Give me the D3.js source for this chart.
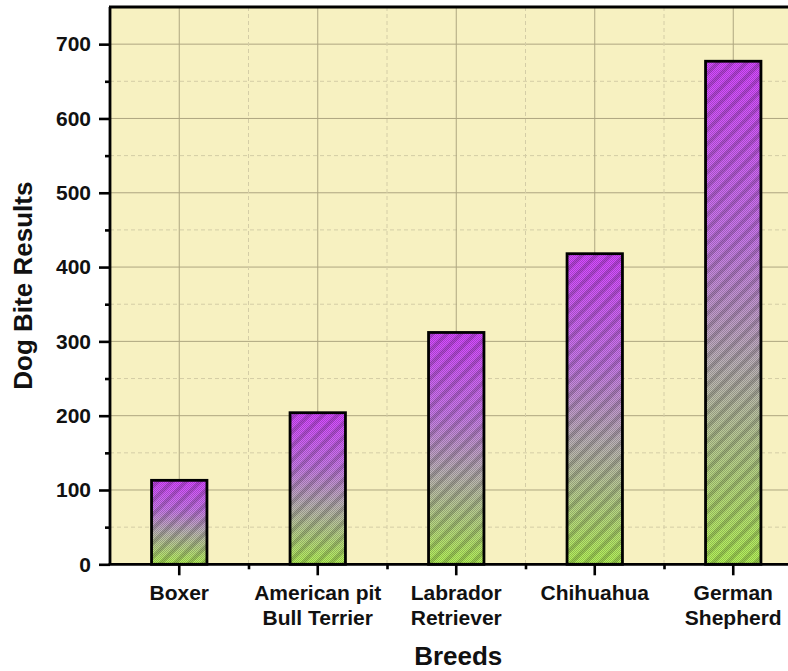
<!DOCTYPE html>
<html>
<head>
<meta charset="utf-8">
<script src="https://cdn.jsdelivr.net/npm/d3@7"></script>
<style>
  body { margin: 0; background: #fff; }
  text { font-family: "Liberation Sans", Arial, sans-serif; font-weight: bold; fill: #111; }
</style>
</head>
<body>
<div class="bar-chart"></div>
<script>
// Data
const breeds = ["Boxer", "American pit\nBull Terrier", "Labrador\nRetriever", "Chihuahua", "German\nShepherd"];
const bites = [113, 204, 312, 418, 677];
const majorTicks = [0, 100, 200, 300, 400, 500, 600, 700];
const minorTicks = [50, 150, 250, 350, 450, 550, 650, 750];

// Setup
const width = 788, height = 671;
const plotLeft = 110, plotTop = 7, plotBottom = 564.3, plotRight = 802.5;

const svg = d3.select(".bar-chart")
  .append("svg")
  .attr("width", width)
  .attr("height", height);

const x = d3.scaleBand()
  .domain(breeds)
  .range([plotLeft, plotRight])
  .paddingInner(0.6)
  .paddingOuter(0.3);

const y = d3.scaleLinear()
  .domain([0, 750])
  .range([plotBottom, plotTop]);

const step = x.step();
const center = d => x(d) + x.bandwidth() / 2;

// defs: gradient + texture
const defs = svg.append("defs");
const grad = defs.append("linearGradient")
  .attr("id", "barGrad")
  .attr("x1", 0).attr("y1", 0).attr("x2", 0).attr("y2", 1);
grad.append("stop").attr("offset", "0%").attr("stop-color", "#d448ff");
grad.append("stop").attr("offset", "35%").attr("stop-color", "#c878ea");
grad.append("stop").attr("offset", "60%").attr("stop-color", "#bcb2b8");
grad.append("stop").attr("offset", "100%").attr("stop-color", "#b4f25a");

const hatch = defs.append("pattern")
  .attr("id", "hatch")
  .attr("patternUnits", "userSpaceOnUse")
  .attr("width", 10).attr("height", 10)
  .attr("patternTransform", "rotate(-45)");
hatch.append("rect")
  .attr("width", 10).attr("height", 4)
  .attr("fill", "rgba(0,0,0,0.16)");

const dots = defs.append("pattern")
  .attr("id", "dots")
  .attr("patternUnits", "userSpaceOnUse")
  .attr("width", 2).attr("height", 2);
dots.append("rect").attr("width", 1).attr("height", 1).attr("fill", "rgba(0,0,0,0.2)");
dots.append("rect").attr("x", 1).attr("y", 1).attr("width", 1).attr("height", 1).attr("fill", "rgba(0,0,0,0.2)");

// plot background
svg.append("rect")
  .attr("x", plotLeft).attr("y", plotTop)
  .attr("width", plotRight - plotLeft).attr("height", plotBottom - plotTop)
  .attr("fill", "#f7f1c1");

// grid
const grid = svg.append("g").attr("class", "grid");
grid.selectAll(".gy-major")
  .data(majorTicks.slice(1))
  .enter().append("line")
  .attr("x1", plotLeft).attr("x2", plotRight)
  .attr("y1", d => y(d)).attr("y2", d => y(d))
  .attr("stroke", "#aea680").attr("stroke-width", 1);
grid.selectAll(".gy-minor")
  .data(minorTicks.slice(0, -1))
  .enter().append("line")
  .attr("x1", plotLeft).attr("x2", plotRight)
  .attr("y1", d => y(d)).attr("y2", d => y(d))
  .attr("stroke", "#d4cda6").attr("stroke-width", 1)
  .attr("stroke-dasharray", "4,3");
grid.selectAll(".gx-major")
  .data(breeds)
  .enter().append("line")
  .attr("x1", center).attr("x2", center)
  .attr("y1", plotTop).attr("y2", plotBottom)
  .attr("stroke", "#aea680").attr("stroke-width", 1);
grid.selectAll(".gx-minor")
  .data(breeds)
  .enter().append("line")
  .attr("x1", d => center(d) + step / 2).attr("x2", d => center(d) + step / 2)
  .attr("y1", plotTop).attr("y2", plotBottom)
  .attr("stroke", "#d4cda6").attr("stroke-width", 1)
  .attr("stroke-dasharray", "4,3");

// bars
const bars = svg.append("g").attr("class", "bars")
  .selectAll("g")
  .data(breeds.map((b, i) => ({ name: b, value: bites[i] })))
  .enter().append("g");

["url(#barGrad)", "url(#dots)", "url(#hatch)"].forEach(fill => {
  bars.append("rect")
    .attr("x", d => x(d.name))
    .attr("y", d => y(d.value))
    .attr("width", x.bandwidth())
    .attr("height", d => y(0) - y(d.value))
    .attr("fill", fill);
});
bars.append("rect")
  .attr("x", d => x(d.name))
  .attr("y", d => y(d.value))
  .attr("width", x.bandwidth())
  .attr("height", d => y(0) - y(d.value))
  .attr("fill", "none")
  .attr("stroke", "#000")
  .attr("stroke-width", 2.8);

// frame top
svg.append("line")
  .attr("x1", plotLeft - 1).attr("x2", width)
  .attr("y1", plotTop).attr("y2", plotTop)
  .attr("stroke", "#000").attr("stroke-width", 3);

// Y axis
const yAxis = svg.append("g")
  .attr("transform", `translate(${plotLeft},0)`)
  .call(d3.axisLeft(y).tickValues(majorTicks).tickSize(11).tickPadding(8));
const yMinor = svg.append("g")
  .attr("transform", `translate(${plotLeft},0)`)
  .call(d3.axisLeft(y).tickValues(minorTicks.slice(0, -1)).tickSize(5).tickFormat(""));

// X axis
const xAxis = svg.append("g")
  .attr("transform", `translate(0,${plotBottom})`)
  .call(d3.axisBottom(x).tickSize(11).tickFormat(""));
const xMinor = svg.append("g")
  .attr("transform", `translate(0,${plotBottom})`)
  .call(d3.axisBottom(d3.scaleLinear().domain([plotLeft, plotRight]).range([plotLeft, plotRight]))
    .tickValues(breeds.map(b => center(b) + step / 2))
    .tickSize(5).tickFormat(""));

yMinor.select(".domain").remove();
xMinor.select(".domain").remove();
svg.selectAll(".domain").attr("stroke", "#000").attr("stroke-width", 2.8);
svg.selectAll(".tick line").attr("stroke", "#000").attr("stroke-width", 2.6);
yAxis.select(".domain").attr("d", `M0,${plotTop}V${plotBottom}`);
xAxis.select(".domain").attr("d", `M${plotLeft - 1.4},0H${width}`);

yAxis.selectAll(".tick text")
  .style("font-size", "21px")
  .style("font-family", "'Liberation Sans', Arial, sans-serif")
  .style("font-weight", "bold")
  .attr("fill", "#111");

// category labels
const labels = svg.append("g").attr("class", "x-labels");
breeds.forEach(b => {
  const t = labels.append("text")
    .attr("text-anchor", "middle")
    .attr("x", center(b))
    .attr("y", 600)
    .style("font-size", "21px");
  b.split("\n").forEach((line, i) => {
    t.append("tspan")
      .attr("x", center(b))
      .attr("dy", i === 0 ? 0 : 25)
      .text(line);
  });
});

// axis titles
svg.append("text")
  .attr("text-anchor", "middle")
  .attr("x", (plotLeft + plotRight) / 2 + 2)
  .attr("y", 665)
  .style("font-size", "26px")
  .text("Breeds");

svg.append("text")
  .attr("text-anchor", "middle")
  .attr("transform", `translate(32,${(plotTop + plotBottom) / 2}) rotate(-90)`)
  .style("font-size", "26px")
  .text("Dog Bite Results");
</script>
</body>
</html>
